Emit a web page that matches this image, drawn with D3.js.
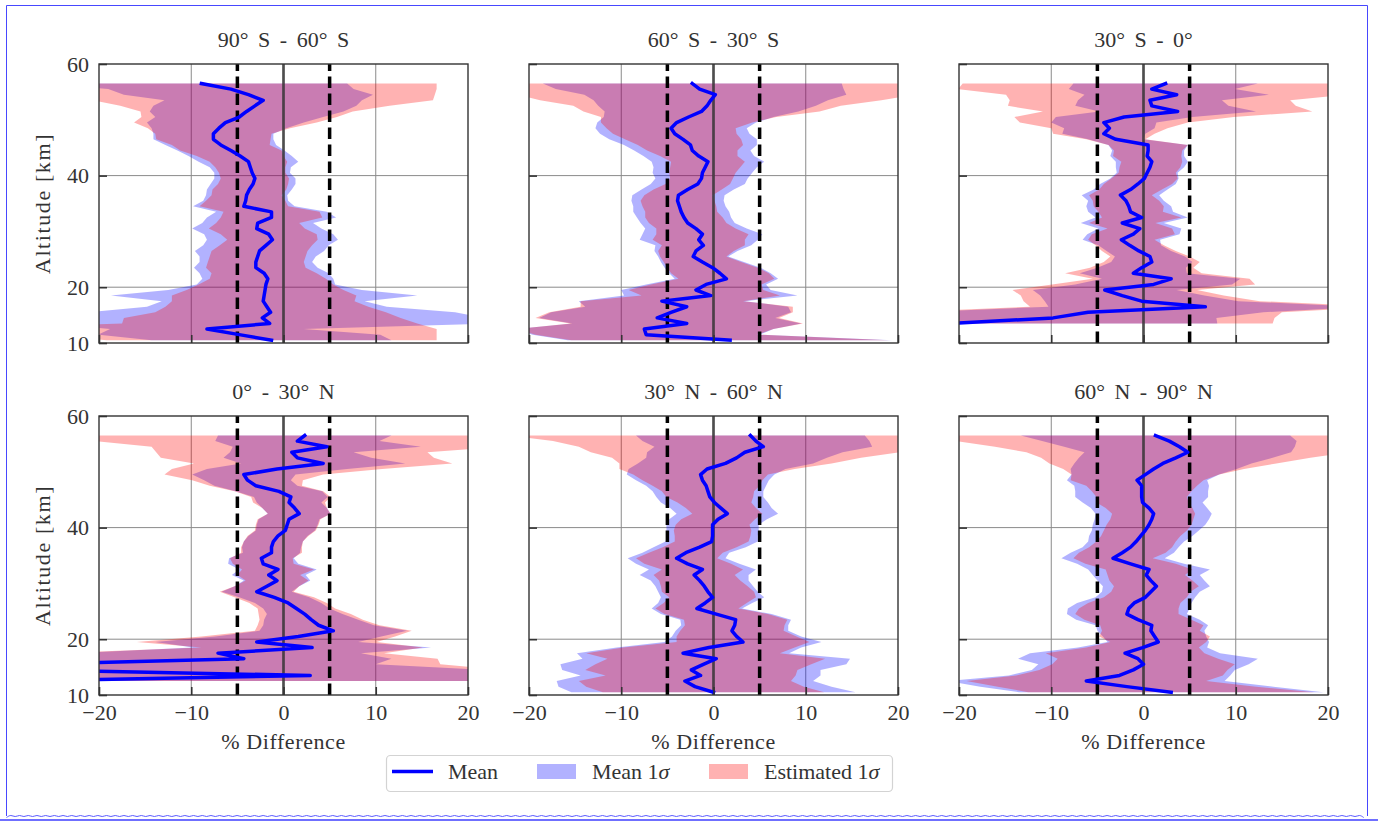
<!DOCTYPE html>
<html>
<head>
<meta charset="utf-8">
<script src="https://cdn.jsdelivr.net/npm/d3@7"></script>
<style>
  html, body { margin: 0; padding: 0; background: #fff; }
  svg { display: block; }
</style>
</head>
<body>
<svg id="chart" width="1378" height="822"></svg>
<script>
// ---------------- DATA ----------------
const altitude = [56.5,55.5,54.5,53.5,52.5,51.5,50.5,49.5,48.5,47.5,
                  46.5,45.5,44.5,43.5,42.5,41.5,40.5,39.5,38.5,37.5,
                  36.5,35.5,34.5,33.5,32.5,31.5,30.5,29.5,28.5,27.5,
                  26.5,25.5,24.5,23.5,22.5,21.5,20.5,19.5,18.5,17.5,
                  16.5,15.5,14.5,13.5,12.5,11.5,10.5];

const regionTitles = ["90° S - 60° S", "60° S - 30° S", "30° S - 0°",
                      "0° - 30° N", "30° N - 60° N", "60° N - 90° N"];

// 90S-60S
const mean1 = [-8.9,-5.7,-3.8,-2.2,-3.1,-4.0,-4.8,-6.3,-7.0,-7.6, -7.6,-6.8,-5.7,-4.7,-3.8,-3.6,-3.4,-3.1,-3.3,-3.7,
  -4.0,-4.1,-4.3,-1.3,-1.3,-2.8,-2.9,-1.6,-1.2,-1.9, -2.6,-2.8,-3.0,-3.0,-2.1,-1.7,-1.9,-2.0,-2.1,-2.2, -1.8,-1.4,-2.3,-1.5,-8.3,-4.8,-1.3];
const sigMean1 = [15.8,13.3,13.5,10.7,11.0,10.5,9.1,8.5,7.3,6.5, 6.5,6.0,5.8,5.6,5.4,4.4,4.1,4.4,4.6,4.6,
  4.4,4.6,5.5,6.0,7.0,6.0,7.0,7.0,7.1,6.8, 7.0,6.3,6.1,6.7,7.0,7.1,7.5,10.5,16.6,11.0, 13.0,20.0,24.0,24.0,10.5,15.3,13.0];
const sigEst1 = [25.5,22.3,20.2,18.4,14.6,11.5,10.6,9.9,7.7,6.3, 6.2,5.3,5.5,4.7,4.2,3.8,3.6,3.7,3.8,4.0,
  3.8,4.3,4.8,5.2,5.5,4.5,5.2,5.2,4.9,5.0, 5.2,5.2,5.2,5.4,5.7,6.3,7.3,8.5,10.0,9.9, 11.0,12.5,15.0,16.0,24.9,21.4,17.9];

// 60S-30S
const mean2 = [-2.3,-1.5,0.2,-0.3,-0.7,-1.3,-2.7,-4.0,-4.6,-4.2, -3.3,-2.5,-2.3,-1.6,-0.6,-0.9,-1.2,-1.3,-1.7,-2.8,
  -3.8,-3.9,-3.7,-3.5,-3.2,-2.8,-1.9,-1.2,-1.6,-1.1, -1.9,-2.2,-1.2,-0.1,0.7,1.4,-0.8,-1.9,-0.3,-5.6, -2.9,-4.6,-6.1,-2.9,-7.5,-7.3,1.8];
const sigMean2 = [16.2,15.6,14.2,12.7,11.8,10.5,9.2,8.6,8.2,8.1, 8.0,7.2,6.3,6.0,6.1,5.6,5.4,5.0,5.1,5.0,
  5.0,5.0,5.0,5.2,5.1,5.1,5.5,6.5,6.4,5.2, 4.5,3.8,4.5,5.2,5.5,5.6,6.5,8.1,9.4,9.0, 11.0,13.0,12.8,12.4,14.0,12.3,17.6];
const sigEst2 = [24,23,21.5,18.5,14.5,12.8,9.5,8.2,7.0,6.7, 6.3,5.7,4.9,4.2,4.0,3.8,3.6,3.4,3.5,3.7,
  3.7,4.0,4.0,3.9,4.2,4.2,4.3,5.0,5.0,4.5, 4.1,3.6,4.2,4.9,5.3,5.2,6.0,7.3,7.5,8.8, 11.5,13.2,13.2,12.6,14.0,12.0,17.2];

// 30S-0
const mean3 = [2.4,0.9,3.6,0.7,0.9,3.7,-2.1,-4.3,-3.7,-4.3, -3.0,0.5,0.5,0.4,0.9,0.7,0.4,0.1,-0.6,-1.4,
  -2.5,-1.9,-1.6,-1.4,-0.2,-2.3,-0.4,-1.1,-2.4,-1.5, -0.5,0.7,0.9,-0.2,-1.1,3.0,1.1,-4.2,-2.3,-0.2, 6.7,-6.0,-9.8,-21,null,null,null];
const sigMean3 = [10,9,10,7.8,8.3,8.5,7.4,5.7,4.9,4.5, 3.0,4.3,3.9,4.0,3.9,3.7,3.3,3.7,4.1,4.0,
  4.2,4.1,4.6,4.6,5.0,4.5,4.5,5.0,4.2,3.4, 3.5,3.8,4.4,4.8,5.8,7.5,8.5,7.8,8.9,10.5, 17,19,17.7,29,null,null,null];
const sigEst3 = [22,21,18.5,15.2,15.6,14.6,11.9,9.1,6.3,5.5, 3.2,4.3,3.7,3.7,3.3,3.3,3.1,3.6,3.7,3.4,
  3.4,3.6,3.8,3.5,4.3,3.6,3.5,4.5,3.6,3.7, 4.0,4.3,5.2,5.6,7.4,8.5,11,10,11,12.8, 19,21,24,35,null,null,null];

// 0-30N
const mean4 = [2.3,1.5,4.7,0.9,1.5,4.3,-0.7,-4.3,-3.9,-3.0, -0.5,0.8,0.6,1.2,1.7,0.6,0.4,0.2,-0.6,-1.1,
  -1.3,-1.3,-2.4,-2.2,-0.6,-1.6,-0.7,-1.8,-2.9,-1.0, 0.5,1.4,2.3,3.0,3.8,5.4,1.6,-2.9,3.1,-7.1, -4.3,-28,-28,2.9,-28,null,null];
const sigMean4 = [9.4,8.9,10.2,6.7,8.0,8.9,7.6,5.6,4.7,4.5, 4.7,4.0,3.5,3.5,3.4,3.3,3.3,3.2,3.2,3.2,
  3.2,3.1,3.5,3.8,4.2,4.0,3.6,3.5,3.8,3.8, 3.6,3.6,4.1,5.1,6.0,8.0,9.0,11,12.9,15.5, 16,38,50,25,50,null,null];
const sigEst4 = [24,22,19,14.7,14.8,14,11.4,8.6,6.0,5.0, 4.8,4.3,3.9,3.5,3.4,3.4,3.4,3.3,3.3,3.2,
  3.3,3.3,3.4,3.3,3.9,3.4,3.4,3.5,4.0,4.3, 4.2,4.2,5.0,5.6,6.6,8.5,10.5,13,12,18, 21,45,52,27,52,null,null];

// 30N-60N
const mean5 = [4.0,4.6,5.4,3.4,2.5,1.3,-0.7,-1.4,-1.2,-0.8, -0.6,-0.4,0.1,0.8,1.5,0.5,-0.1,-0.1,-0.1,-0.2,
  -1.5,-3.0,-4.0,-2.8,-1.2,-2.1,-1.5,-1.0,-0.6,-0.1, -0.9,-1.8,0.3,2.4,2.3,2.0,2.5,3.2,-0.5,-3.3, 0.3,-1.1,-2.4,-1.4,-3.1,-2.0,0.0];
const sigMean5 = [12.4,12.3,11.8,10.6,9.8,9.5,8.5,8.0,7.2,6.5, 6.0,5.8,5.8,5.5,5.5,5.3,5.0,5.0,4.9,5.0,
  5.0,4.7,5.3,5.6,5.8,5.9,5.3,5.3,5.4,5.6, 5.1,4.9,6.0,6.0,5.8,6.1,7.0,8.5,10,11.5, 14.5,15.5,14,13,13.9,14.8,15.4];
const sigEst5 = [26,22,20,16.7,13.5,11.5,9.5,7.3,6.5,5.8, 5.0,4.7,4.0,3.8,3.8,4.0,4.0,4.2,4.1,4.0,
  4.0,4.0,4.4,4.7,4.4,4.4,4.4,4.7,5.0,4.7, 4.5,4.5,5.6,5.6,5.4,5.6,6.5,7.2,9.3,10.5, 11.8,11.7,11.5,10.3,11.5,11.8,12];

// 60N-90N
const mean6 = [1.3,2.8,3.9,4.8,3.5,2.1,1.1,0.2,-0.7,-0.2, -0.2,-0.2,-0.1,0.6,1.1,0.9,0.6,0.2,-0.3,-0.8,
  -1.4,-2.3,-3.3,-1.4,0.6,0.3,0.8,1.4,0.8,0.2, -1.0,-1.6,-1.8,-0.6,0.9,0.8,1.2,1.6,-0.1,-2.0, -0.6,0.0,-1.1,-2.6,-6.2,-1.8,3.0];
const sigMean6 = [14.6,13.8,12.5,11.2,10.5,9.6,9.0,8.0,7.6,7.3, 7.2,7.2,6.5,6.3,6.3,6.2,6.1,5.8,5.6,5.2,
  5.2,5.6,5.6,5.8,6.6,5.8,5.8,5.8,5.3,5.4, 6.2,6.6,6.5,6.7,6.1,5.8,5.6,5.5,7.0,10.3, 13,11.4,11,12,15,15.9,16.5];
const sigEst6 = [24,23,20,17.5,14.6,12.3,9.8,8.0,7.2,6.0, 5.4,4.9,5.0,4.7,4.5,4.5,4.6,4.5,4.3,4.3,
  4.5,4.7,4.3,4.9,4.7,4.2,4.5,4.6,4.3,4.5, 5.0,5.4,5.6,5.8,5.6,5.3,6.0,5.2,6.1,8.6, 8.7,9.9,10.2,11.2,13,14,15.5];

const xTicks = [-20, -10, 0, 10, 20];
const yTicks = [10, 20, 40, 60];
const xGrid = [-10, 0, 10];
const yGrid = [20, 40];
const refLines = [-5, 5];
const legendLabels = ["Mean", "Mean 1σ", "Estimated 1σ"];

const panels = [
  {title: regionTitles[0], mean: mean1, sM: sigMean1, sE: sigEst1},
  {title: regionTitles[1], mean: mean2, sM: sigMean2, sE: sigEst2},
  {title: regionTitles[2], mean: mean3, sM: sigMean3, sE: sigEst3},
  {title: regionTitles[3], mean: mean4, sM: sigMean4, sE: sigEst4},
  {title: regionTitles[4], mean: mean5, sM: sigMean5, sE: sigEst5},
  {title: regionTitles[5], mean: mean6, sM: sigMean6, sE: sigEst6}
];

// ---------------- LAYOUT ----------------
const FONT = '"Liberation Serif", "Times New Roman", serif';
const TXT = "#333";
const panelLeft = [99, 529, 959];
const panelTop = [64, 416];
const PW = 369, PH = 279;
const BLUE_FILL = "rgba(0,0,255,0.3)";
const RED_FILL = "rgba(255,0,0,0.3)";

const svg = d3.select("#chart");
svg.append("rect").attr("width", 1378).attr("height", 822).attr("fill", "#fff");

const x = d3.scaleLinear().domain([-20, 20]).range([0, PW]);
const y = d3.scaleLinear().domain([10, 60]).range([PH, 0]);

panels.forEach((p, i) => {
  const col = i % 3, row = Math.floor(i / 3);
  const g = svg.append("g").attr("transform", `translate(${panelLeft[col]},${panelTop[row]})`);
  const cid = "clip" + i;
  g.append("clipPath").attr("id", cid).append("rect").attr("width", PW).attr("height", PH);

  const rows = altitude.map((a, k) => ({a, m: p.mean[k], sM: p.sM[k], sE: p.sE[k]}));
  const def = d => d.m != null;

  // grid
  g.append("g").selectAll("line").data(xGrid).enter().append("line")
    .attr("x1", d => x(d)).attr("x2", d => x(d)).attr("y1", 0).attr("y2", PH)
    .attr("stroke", "#8a8a8a").attr("stroke-width", 1);
  g.append("g").selectAll("line").data(yGrid).enter().append("line")
    .attr("x1", 0).attr("x2", PW).attr("y1", d => y(d)).attr("y2", d => y(d))
    .attr("stroke", "#8a8a8a").attr("stroke-width", 1);

  const plot = g.append("g").attr("clip-path", `url(#${cid})`);

  const areaM = d3.area().defined(def)
    .y(d => y(d.a)).x0(d => x(d.m - d.sM)).x1(d => x(d.m + d.sM));
  const areaE = d3.area().defined(def)
    .y(d => y(d.a)).x0(d => x(d.m - d.sE)).x1(d => x(d.m + d.sE));

  plot.append("path").datum(rows).attr("d", areaM).attr("fill", BLUE_FILL);
  plot.append("path").datum(rows).attr("d", areaE).attr("fill", RED_FILL);

  // zero line
  plot.append("line").attr("x1", x(0)).attr("x2", x(0)).attr("y1", 0).attr("y2", PH)
    .attr("stroke", "#3a3a3a").attr("stroke-opacity", 0.75).attr("stroke-width", 3);

  // +-5 dashed
  plot.append("g").selectAll("line").data(refLines).enter().append("line")
    .attr("x1", d => x(d)).attr("x2", d => x(d)).attr("y1", PH).attr("y2", 0)
    .attr("stroke", "#000").attr("stroke-width", 3.5).attr("stroke-dasharray", "11.5,5.5");

  // mean line
  const line = d3.line().defined(def).x(d => x(d.m)).y(d => y(d.a));
  plot.append("path").datum(rows).attr("d", line)
    .attr("fill", "none").attr("stroke", "#0000ff").attr("stroke-width", 3.5)
    .attr("stroke-linejoin", "round").attr("stroke-linecap", "square");

  // axes
  const ax = d3.axisBottom(x).tickValues(xTicks).tickSize(-8).tickPadding(9)
    .tickFormat(row === 1 ? d3.format("d") : () => "");
  const gx = g.append("g").attr("transform", `translate(0,${PH})`).call(ax);
  const ay = d3.axisLeft(y).tickValues(yTicks).tickSize(-8).tickPadding(10)
    .tickFormat(col === 0 ? d3.format("d") : () => "");
  const gy = g.append("g").call(ay);
  [gx, gy].forEach(a => {
    a.select(".domain").remove();
    a.selectAll(".tick line").attr("stroke", "#333").attr("stroke-width", 1.6);
    a.selectAll(".tick text").attr("fill", TXT).style("font-family", FONT).style("font-size", "22px");
  });

  // frame
  g.append("rect").attr("width", PW).attr("height", PH)
    .attr("fill", "none").attr("stroke", "#333").attr("stroke-width", 1.4);

  // title
  g.append("text").attr("x", PW / 2).attr("y", -17).attr("text-anchor", "middle")
    .attr("fill", TXT).style("font-family", FONT).style("font-size", "22px")
    .style("word-spacing", "4px").text(p.title);

  if (row === 1) {
    g.append("text").attr("x", PW / 2).attr("y", PH + 54).attr("text-anchor", "middle")
      .attr("fill", TXT).style("font-family", FONT).style("font-size", "22px")
      .style("letter-spacing", "0.6px").text("% Difference");
  }
  if (col === 0) {
    g.append("text").attr("transform", `translate(-49,${PH / 2}) rotate(-90)`)
      .attr("text-anchor", "middle").attr("fill", TXT)
      .style("font-family", FONT).style("font-size", "22px")
      .style("letter-spacing", "1.6px").text("Altitude [km]");
  }
});

// ---------------- LEGEND ----------------
const lg = svg.append("g");
lg.append("rect").attr("x", 386.5).attr("y", 755.5).attr("width", 506).attr("height", 36)
  .attr("rx", 4).attr("fill", "#fff").attr("stroke", "#d3d3d3").attr("stroke-width", 1.2);
lg.append("line").attr("x1", 392).attr("x2", 433).attr("y1", 771.5).attr("y2", 771.5)
  .attr("stroke", "#0000ff").attr("stroke-width", 3.5);
lg.append("rect").attr("x", 537).attr("y", 764).attr("width", 39).attr("height", 15).attr("fill", BLUE_FILL);
lg.append("rect").attr("x", 709).attr("y", 764).attr("width", 39).attr("height", 15).attr("fill", RED_FILL);
const legendX = [448, 592, 764];
legendLabels.forEach((lab, k) => {
  const t = lg.append("text").attr("x", legendX[k]).attr("y", 779).attr("fill", TXT)
    .style("font-family", FONT).style("font-size", "22px");
  if (lab.endsWith("σ")) {
    t.append("tspan").text(lab.slice(0, -1));
    t.append("tspan").style("font-style", "italic").text("σ");
  } else {
    t.text(lab);
  }
});

// ---------------- FRAME ----------------
const fr = svg.append("g").attr("fill", "none").attr("stroke", "#4848ff").attr("stroke-width", 1);
fr.append("path").attr("d", "M6.5,816 L6.5,5.5 L1367.5,5.5 L1367.5,816");
const wave = [];
for (let xx = 6.5; xx <= 1367.5; xx += 4.35) wave.push([xx, (wave.length % 2 === 0) ? 817.5 : 814.5]);
fr.append("path").attr("d", d3.line().curve(d3.curveBasis)(wave)).attr("stroke", "#5a5aff");
fr.append("line").attr("x1", 0).attr("x2", 1378).attr("y1", 820).attr("y2", 820)
  .attr("stroke", "#6f6fff").attr("stroke-width", 2);
</script>
</body>
